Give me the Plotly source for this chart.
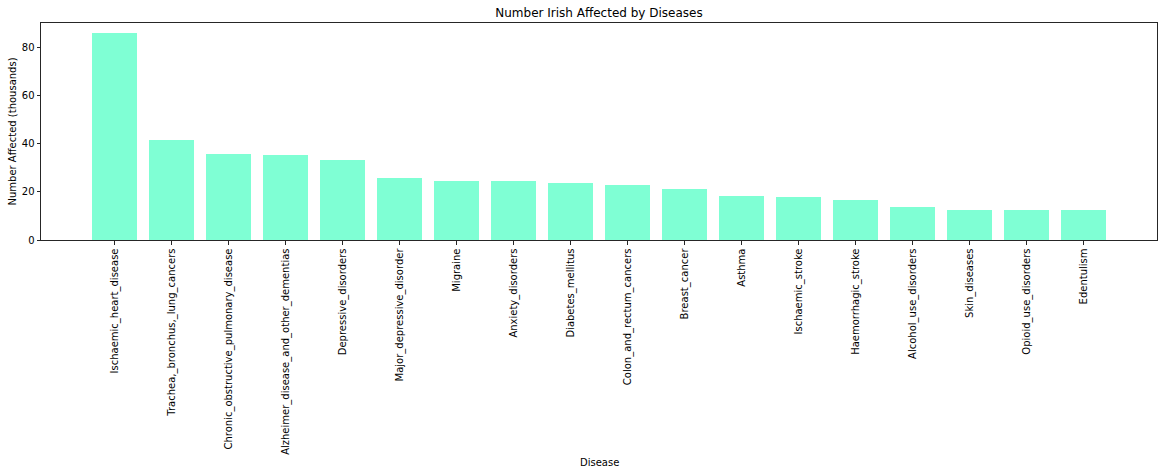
import plotly.graph_objects as go

diseases = [
    "Ischaemic_heart_disease",
    "Trachea,_bronchus,_lung_cancers",
    "Chronic_obstructive_pulmonary_disease",
    "Alzheimer_disease_and_other_dementias",
    "Depressive_disorders",
    "Major_depressive_disorder",
    "Migraine",
    "Anxiety_disorders",
    "Diabetes_mellitus",
    "Colon_and_rectum_cancers",
    "Breast_cancer",
    "Asthma",
    "Ischaemic_stroke",
    "Haemorrhagic_stroke",
    "Alcohol_use_disorders",
    "Skin_diseases",
    "Opioid_use_disorders",
    "Edentulism",
]
affected = [86.0, 41.5, 35.7, 35.3, 33.2, 25.7, 24.5, 24.5, 23.7, 22.8,
            21.2, 18.3, 17.9, 16.6, 13.7, 12.5, 12.5, 12.5]
y_ticks = [0, 20, 40, 60, 80]

FONT = "DejaVu Sans"
W, H = 1164, 475
L, R, T, B = 41, 7, 23, 235

fig = go.Figure(
    go.Bar(
        x=list(range(len(diseases))),
        y=affected,
        width=0.8,
        marker=dict(color="#7FFFD4", line=dict(width=0)),
    )
)

fig.update_layout(
    width=W,
    height=H,
    paper_bgcolor="white",
    plot_bgcolor="white",
    margin=dict(l=L, r=R, t=T, b=B, pad=0, autoexpand=False),
    font=dict(family=FONT, size=10, color="black"),
    title=dict(
        text="Number Irish Affected by Diseases",
        x=(L + W - R) / 2 / W,
        xanchor="center",
        y=1 - 13 / H,
        yanchor="middle",
        font=dict(family=FONT, size=12, color="black"),
    ),
    showlegend=False,
    bargap=0,
    annotations=[
        dict(text="Disease", xref="paper", yref="paper", x=0.5,
             y=-(462 - (H - B)) / (H - B - T), xanchor="center", yanchor="middle",
             showarrow=False, font=dict(family=FONT, size=10, color="black")),
        dict(text="Number Affected (thousands)", xref="paper", yref="paper",
             x=-(L - 12) / (W - L - R), y=0.5, textangle=-90,
             xanchor="center", yanchor="middle",
             showarrow=False, font=dict(family=FONT, size=10, color="black")),
    ],
)

fig.update_xaxes(
    tickmode="array",
    tickvals=list(range(len(diseases))),
    ticktext=diseases,
    tickangle=-90,
    range=[-1.29, 18.29],
    automargin=False,
    showgrid=False,
    zeroline=False,
    showline=True,
    linecolor="#262626",
    linewidth=1,
    mirror=True,
    ticks="outside",
    ticklen=3.5,
    tickcolor="#262626",
    tickfont=dict(family=FONT, size=10, color="black"),
)

fig.update_yaxes(
    range=[0, 90],
    tickmode="array",
    tickvals=y_ticks,
    automargin=False,
    showgrid=False,
    zeroline=False,
    showline=True,
    linecolor="#262626",
    linewidth=1,
    mirror=True,
    ticks="outside",
    ticklen=3.5,
    tickcolor="#262626",
    tickfont=dict(family=FONT, size=10, color="black"),
)

fig.write_html(
    "out.html",
    config={"displayModeBar": False},
    post_script="document.body.style.margin='0';document.body.style.overflow='hidden';",
)
